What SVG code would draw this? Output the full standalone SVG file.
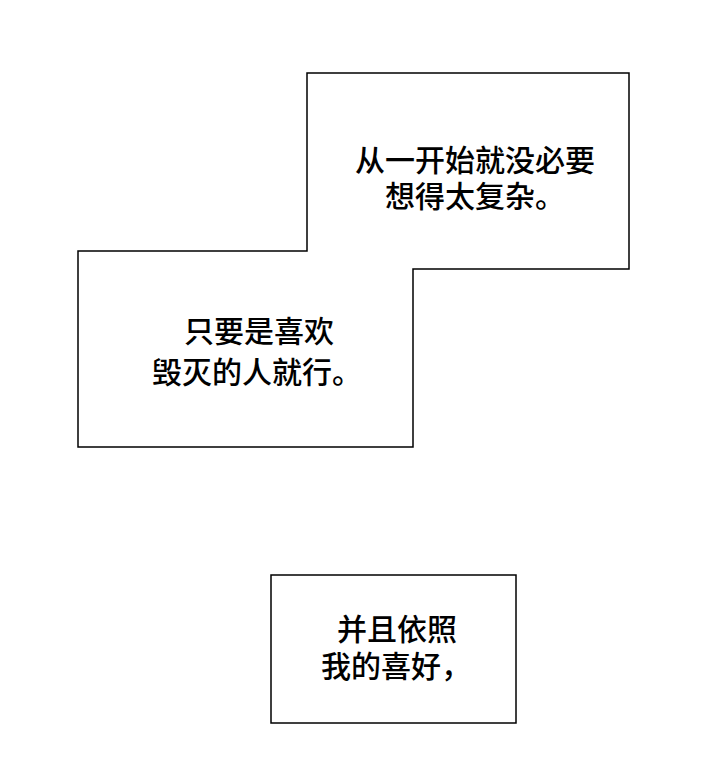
<svg xmlns="http://www.w3.org/2000/svg" width="720" height="776" viewBox="0 0 720 776">
<style>
.b{fill:#fff;stroke:#000;stroke-width:1.5}
.t{font-family:"Noto Sans CJK SC","Noto Sans",sans-serif;font-size:30px;font-weight:500;fill:#000}
</style>
<rect width="720" height="776" fill="#fff"/>
<g id="box1"><path class="b" d="M307,73 H629 V269 H413 V447 H78 V251 H307 Z"/>
<text class="t" x="355" y="171">从一开始就没必要</text>
<text class="t" x="385" y="207">想得太复杂。</text>
<text class="t" x="184" y="342">只要是喜欢</text>
<text class="t" x="152" y="383">毁灭的人就行。</text></g>
<g id="box3"><rect class="b" x="271" y="575" width="245" height="148"/>
<text class="t" x="337" y="640">并且依照</text>
<text class="t" x="321" y="677">我的喜好，</text></g>
<g id="connectors"/>
</svg>
